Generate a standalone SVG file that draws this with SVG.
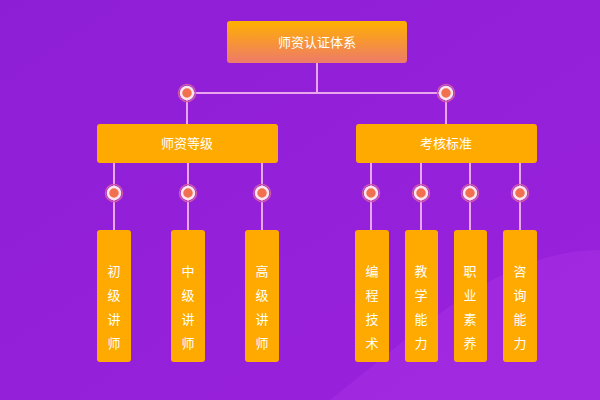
<svg xmlns="http://www.w3.org/2000/svg" width="600" height="400" viewBox="0 0 600 400">
<defs>
<linearGradient id="bg" x1="0" y1="0" x2="1" y2="1"><stop offset="0" stop-color="#8e1ed6"/><stop offset="1" stop-color="#9a22dc"/></linearGradient>
<linearGradient id="top" x1="0" y1="0" x2="0" y2="1"><stop offset="0" stop-color="#ffb000"/><stop offset="1" stop-color="#ee7a6a"/></linearGradient>
<style>
.ln{stroke:#e9a6ec;stroke-width:2;fill:none}
.dot{fill:#f07050;stroke:#fbe6f0;stroke-width:2.5}
.ring{fill:none;stroke:#d05aa8;stroke-width:1.5}
.box{fill:#ffaa00}
.t{font-family:"Noto Sans CJK SC",sans-serif;font-size:13px;fill:#fff;text-anchor:middle}
</style>
<g id="d"><circle class="ring" r="8.5"/><circle class="dot" r="6"/></g>
</defs>
<rect width="600" height="400" fill="url(#bg)"/>
<path d="M330 400 C420 330 500 250 600 250 L600 400Z" fill="#a42ee2" opacity="0.7"/>
<g id="connectors">
<path class="ln" d="M317 63V93M187 93H446M187 93V124M446 93V124"/>
<path class="ln" d="M114 163V230M188 163V230M262 163V230M371 163V230M421 163V230M470 163V230M520 163V230"/>
<use href="#d" x="187" y="93"/><use href="#d" x="446" y="93"/>
<use href="#d" x="114" y="193"/><use href="#d" x="188" y="193"/><use href="#d" x="262" y="193"/>
<use href="#d" x="371" y="193"/><use href="#d" x="421" y="193"/><use href="#d" x="470" y="193"/><use href="#d" x="520" y="193"/>
</g>
<g id="root"><rect x="227" y="21" width="180" height="42" rx="3" fill="url(#top)"/><text class="t" x="317" y="47">师资认证体系</text></g>
<g id="n1"><rect class="box" x="97" y="124" width="181" height="39" rx="3"/><text class="t" x="187" y="148">师资等级</text></g>
<g id="n2"><rect class="box" x="356" y="124" width="181" height="39" rx="3"/><text class="t" x="446" y="148">考核标准</text></g>
<g id="l1"><rect class="box" x="97" y="230" width="34" height="132" rx="3"/><text class="t" x="114" y="276">初</text><text class="t" x="114" y="300">级</text><text class="t" x="114" y="324">讲</text><text class="t" x="114" y="348">师</text></g>
<g id="l2"><rect class="box" x="171" y="230" width="34" height="132" rx="3"/><text class="t" x="188" y="276">中</text><text class="t" x="188" y="300">级</text><text class="t" x="188" y="324">讲</text><text class="t" x="188" y="348">师</text></g>
<g id="l3"><rect class="box" x="245" y="230" width="34" height="132" rx="3"/><text class="t" x="262" y="276">高</text><text class="t" x="262" y="300">级</text><text class="t" x="262" y="324">讲</text><text class="t" x="262" y="348">师</text></g>
<g id="r1"><rect class="box" x="355" y="230" width="34" height="132" rx="3"/><text class="t" x="372" y="276">编</text><text class="t" x="372" y="300">程</text><text class="t" x="372" y="324">技</text><text class="t" x="372" y="348">术</text></g>
<g id="r2"><rect class="box" x="405" y="230" width="33" height="132" rx="3"/><text class="t" x="421" y="276">教</text><text class="t" x="421" y="300">学</text><text class="t" x="421" y="324">能</text><text class="t" x="421" y="348">力</text></g>
<g id="r3"><rect class="box" x="454" y="230" width="33" height="132" rx="3"/><text class="t" x="470" y="276">职</text><text class="t" x="470" y="300">业</text><text class="t" x="470" y="324">素</text><text class="t" x="470" y="348">养</text></g>
<g id="r4"><rect class="box" x="503" y="230" width="34" height="132" rx="3"/><text class="t" x="520" y="276">咨</text><text class="t" x="520" y="300">询</text><text class="t" x="520" y="324">能</text><text class="t" x="520" y="348">力</text></g>
</svg>
